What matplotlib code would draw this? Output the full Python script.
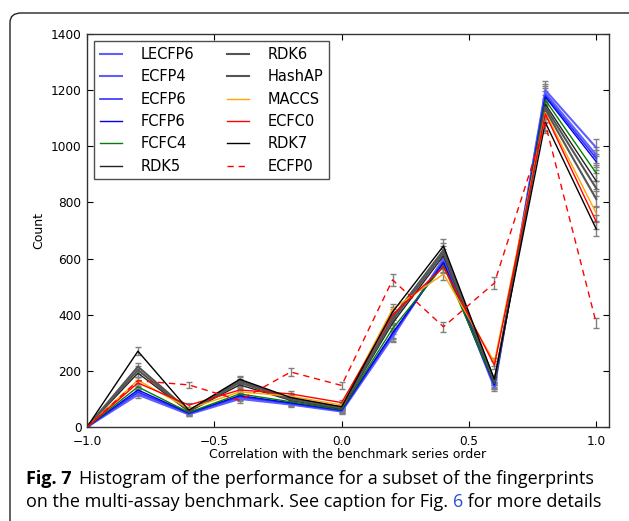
import numpy as np
import matplotlib
matplotlib.use("Agg")
from matplotlib import pyplot as plt
from matplotlib.patches import FancyBboxPatch

# bin centres of the correlation histogram
bins = [-1.0, -0.8, -0.6, -0.4, -0.2, 0.0, 0.2, 0.4, 0.6, 0.8, 1.0]

names = ['LECFP6', 'ECFP4', 'ECFP6', 'FCFP6', 'FCFC4', 'RDK5',
         'RDK6', 'HashAP', 'MACCS', 'ECFC0', 'RDK7', 'ECFP0']

counts = [
    [0, 115, 45, 100, 80, 55, 320, 600, 140, 1200, 995],   # LECFP6
    [0, 120, 47, 105, 82, 57, 325, 595, 145, 1190, 969],   # ECFP4
    [0, 125, 48, 108, 84, 58, 330, 590, 148, 1182, 957],   # ECFP6
    [0, 132, 50, 112, 86, 60, 335, 585, 150, 1176, 945],   # FCFP6
    [0, 143, 52, 118, 90, 62, 350, 575, 155, 1165, 904],   # FCFC4
    [0, 192, 55, 150, 95, 65, 370, 610, 160, 1150, 876],   # RDK5
    [0, 203, 57, 158, 98, 68, 380, 620, 162, 1140, 850],   # RDK6
    [0, 215, 58, 165, 100, 70, 390, 630, 165, 1130, 812],  # HashAP
    [0, 167, 65, 125, 110, 78, 420, 545, 232, 1120, 761],  # MACCS
    [0, 157, 78, 132, 118, 87, 400, 570, 220, 1115, 731],  # ECFC0
    [0, 270, 60, 170, 105, 72, 410, 645, 170, 1085, 705],  # RDK7
    [0, 165, 150, 95, 196, 148, 524, 357, 513, 1080, 370], # ECFP0
]

errors = [
    [0, 10, 6, 9, 8, 7, 17, 23, 11, 33, 30],
    [0, 10, 6, 9, 8, 7, 17, 23, 11, 33, 29],
    [0, 11, 6, 10, 8, 7, 17, 23, 11, 33, 29],
    [0, 11, 6, 10, 8, 7, 17, 23, 11, 33, 29],
    [0, 11, 6, 10, 8, 7, 18, 23, 11, 33, 28],
    [0, 13, 7, 11, 9, 7, 18, 24, 12, 32, 28],
    [0, 14, 7, 12, 9, 7, 18, 24, 12, 32, 28],
    [0, 14, 7, 12, 9, 8, 19, 24, 12, 32, 27],
    [0, 12, 7, 11, 10, 8, 20, 22, 14, 32, 26],
    [0, 12, 8, 11, 10, 9, 19, 23, 14, 32, 26],
    [0, 15, 7, 13, 9, 8, 19, 25, 12, 31, 25],
    [0, 12, 11, 9, 13, 11, 22, 18, 21, 31, 18],
]

colors = ['#5f5fff', '#5f5fff', '#3333ff', '#0000ee', 'green', '#222222',
          '#555555', '#555555', 'orange', 'red', 'black', 'red']
widths = [1.5, 1.5, 1.2, 1.0, 1.0, 1.0, 1.5, 1.5, 1.0, 1.0, 1.0, 1.0]
styles = ['-'] * 11 + ['--']

fig = plt.figure(figsize=(6.29, 5.21), dpi=100)
ax = fig.add_axes([0.1383, 0.1804, 0.8299, 0.7543])

for name, y, err, c, lw, ls in zip(names, counts, errors, colors, widths, styles):
    eb = ax.errorbar(bins, y, yerr=err, color=c, lw=lw, ls=ls, ecolor='gray',
                     elinewidth=1, capsize=2.5, capthick=1, label=name)
    if ls == '--':
        eb[0].set_dashes((4.5, 3.5))

ax.set_xlim(-1.0, 1.05)
ax.set_ylim(0, 1400)
ax.set_xticks([-1.0, -0.5, 0.0, 0.5, 1.0])
ax.set_yticks(range(0, 1401, 200))
ax.tick_params(direction='in', top=True, right=True, length=4, labelsize=8.7)
ax.tick_params(axis='x', pad=5.5)
ax.tick_params(axis='y', pad=4)
for s in ax.spines.values():
    s.set_linewidth(1.0)
    s.set_color('#333333')
ax.set_xlabel('Correlation with the benchmark series order', fontsize=9, labelpad=0)
ax.set_ylabel('Count', fontsize=9, labelpad=4)

# legend handles without the error bars
handles, labels = ax.get_legend_handles_labels()
handles = [h[0] for h in handles]
leg = ax.legend(handles, labels, loc='upper left', ncol=2, fontsize=10.5,
                frameon=True, fancybox=False, handlelength=1.5,
                handletextpad=1.3, columnspacing=2.2, labelspacing=0.5,
                borderaxespad=0.5)
leg.get_frame().set_edgecolor('#222222')
leg.get_frame().set_linewidth(1.0)

# rounded frame around the figure panel
frame = FancyBboxPatch((10 / 629, -0.2), 1.2, 1.2 - 13 / 521,
                       boxstyle='round,pad=0,rounding_size=0.018',
                       transform=fig.transFigure, fill=False,
                       edgecolor='#222222', lw=1.0, clip_on=False)
fig.patches.append(frame)

# caption, bold label and blue link piece
cap_font = dict(family='Open Sans', fontsize=13.0, va='center')
fig.canvas.draw()
r = fig.canvas.get_renderer()
t1 = fig.text(26 / 629, 1 - 479 / 521, 'Fig. 7', fontweight='bold', **cap_font)
bb = t1.get_window_extent(r)
fig.text(bb.x1 / 629 + 7 / 629, 1 - 479 / 521,
         'Histogram of the performance for a subset of the fingerprints', **cap_font)
t2 = fig.text(26 / 629, 1 - 502 / 521, 'on the multi-assay benchmark. See caption for Fig. ', **cap_font)
bb = t2.get_window_extent(r)
t3 = fig.text(bb.x1 / 629, 1 - 502 / 521, '6', color='#2b4fd6', **cap_font)
bb = t3.get_window_extent(r)
fig.text(bb.x1 / 629, 1 - 502 / 521, ' for more details', **cap_font)

fig.savefig('out.png', dpi=100)
